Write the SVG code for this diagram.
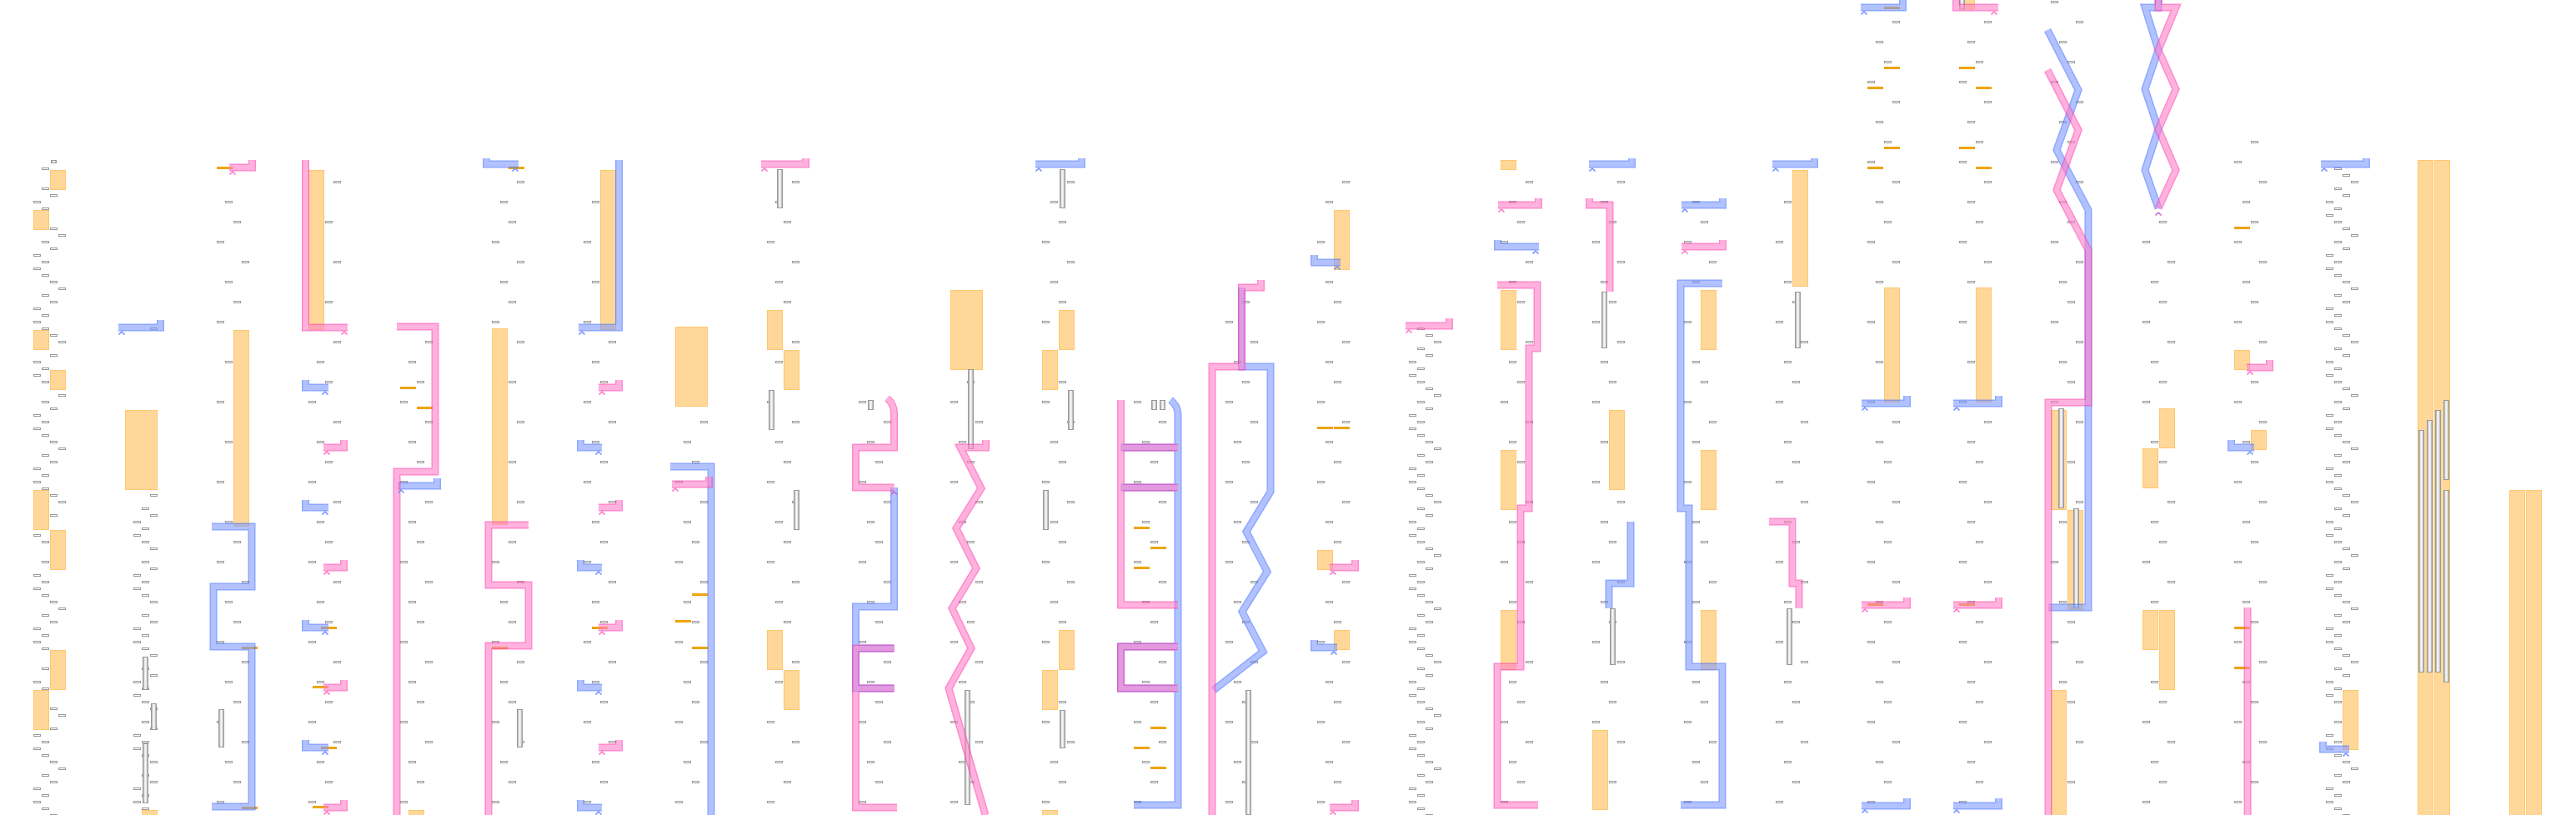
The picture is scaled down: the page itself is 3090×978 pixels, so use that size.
<svg xmlns="http://www.w3.org/2000/svg" width="3090" height="978" viewBox="0 0 3090 978">
<style>
.b{fill:#fff;stroke:#9a9a9a;stroke-width:1}
.o{fill:#ffd899;stroke:#ffc66e;stroke-width:1}
.t{fill:#f5ad17;stroke:#e9a000;stroke-width:1}
.g{fill:url(#gg);stroke:#9a9a9a;stroke-width:1}
.pk,.bl{opacity:.6}
.pk .e{fill:none;stroke:#ff3caf;stroke-width:9}
.pk .i{fill:none;stroke:#ff80c8;stroke-width:6}
.bl .e{fill:none;stroke:#446eff;stroke-width:9}
.bl .i{fill:none;stroke:#809bff;stroke-width:6}
.cp{fill:none;stroke:#ff6ec7;stroke-width:1.5}
.cb{fill:none;stroke:#6f8dff;stroke-width:1.5}
.cm{fill:none;stroke:#c466cc;stroke-width:1.5}
</style>
<defs>
<linearGradient id="gg" x1="0" x2="1" y1="0" y2="0">
<stop offset="0" stop-color="#8f8f8f"/><stop offset=".35" stop-color="#ececec"/><stop offset=".55" stop-color="#fafafa"/><stop offset=".75" stop-color="#d8d8d8"/><stop offset="1" stop-color="#8f8f8f"/>
</linearGradient>
<pattern id="zz" patternUnits="userSpaceOnUse" x="40" y="1" width="110" height="64">
<rect class="b" x="0.5" y="0.5" width="8" height="2"/>
<rect class="b" x="10.5" y="8.5" width="8" height="2"/>
<rect class="b" x="20.5" y="16.5" width="8" height="2"/>
<rect class="b" x="30.5" y="24.5" width="8" height="2"/>
<rect class="b" x="10.5" y="32.5" width="8" height="2"/>
<rect class="b" x="20.5" y="40.5" width="8" height="2"/>
<rect class="b" x="0.5" y="48.5" width="8" height="2"/>
<rect class="b" x="10.5" y="56.5" width="8" height="2"/>
</pattern>
<pattern id="sp" patternUnits="userSpaceOnUse" x="40" y="1" width="110" height="96">
<rect class="b" x="0.5" y="0.5" width="8" height="2"/>
<rect class="b" x="30.5" y="24.5" width="8" height="2"/>
<rect class="b" x="10.5" y="48.5" width="8" height="2"/>
<rect class="b" x="20.5" y="72.5" width="8" height="2"/>
</pattern>
<path id="chv" d="M-3.5,3.5L0,0L3.5,3.5"/>
<g id="PP">
<path d="M302.5,192V201H275"/>
<path d="M366.5,192V393H417"/>
<path d="M412.5,528V537H388"/>
<path d="M412.5,672V681H388"/>
<path d="M412.5,816V825H388"/>
<path d="M412.5,960V969H388"/>
<path d="M476,392H522V566H476V978"/>
<path d="M634,630H586V702H634V775H586V978"/>
<path d="M742.5,456V465H718"/>
<path d="M742.5,600V609H718"/>
<path d="M742.5,744V753H718"/>
<path d="M742.5,888V897H718"/>
<path d="M850.5,572V581H806"/>
<path d="M966.5,190V197H913"/>
<path d="M1064,478Q1072,484 1072.5,495V537H1026.5V585H1072.5"/>
<path d="M1072.5,778H1026.5V969H1076M1026.5,826H1072.5"/>
<path d="M1182.5,528V537H1152L1177,586L1147,634L1171,682L1142,730L1165,778L1138,826L1182,978"/>
<path d="M1344.5,480V726H1413M1344.5,537H1413M1344.5,585H1413M1413,776H1344.5V826H1413"/>
<path d="M1512.5,336V345H1489.5V440H1454V978"/>
<path d="M1625.5,672V681H1595"/>
<path d="M1625.5,960V969H1595"/>
<path d="M1738.5,382V391H1686"/>
<path d="M1845.5,238V246H1797"/>
<path d="M1796,342H1844V418H1834V610H1824V800H1796V966H1845"/>
<path d="M1906.5,238V246H1931V350"/>
<path d="M2066.5,288V296H2017"/>
<path d="M2122,626H2150V700H2158V730"/>
<path d="M2287.5,717V726H2233"/>
<path d="M2346.5,0V9H2397"/>
<path d="M2397.5,717V726H2343"/>
<path d="M2456,84L2493,156L2467,228L2505,300V483H2457V978"/>
<path d="M2589,0V9H2610L2589,60L2610,107L2589,155L2610,204L2589,250"/>
<path d="M2722.5,432V441H2695"/>
<path d="M2696,729V978"/>
</g>
<g id="BP">
<path d="M192.5,384V393H142"/>
<path d="M254,632H302V704H256V776H302V968H254"/>
<path d="M366.5,456V465H394"/>
<path d="M366.5,600V609H394"/>
<path d="M366.5,744V753H394"/>
<path d="M366.5,888V897H394"/>
<path d="M524.5,574V583H477"/>
<path d="M583.5,190V197H622"/>
<path d="M742.5,192V393H694"/>
<path d="M696.5,528V537H722"/>
<path d="M696.5,672V681H722"/>
<path d="M696.5,816V825H722"/>
<path d="M696.5,960V969H722"/>
<path d="M804,560H853V978"/>
<path d="M1072.5,585V728H1026.5V826H1072.5M1026.5,778H1072.5"/>
<path d="M1297.5,190V197H1242"/>
<path d="M1404,480Q1412,486 1413,496V966H1360M1344.5,537H1413M1344.5,585H1413M1413,776H1344.5V826H1413"/>
<path d="M1489.5,345V440H1524V590L1495,638L1520,686L1490,734L1515,782L1456,828"/>
<path d="M1576.5,306V315H1608"/>
<path d="M1576.5,768V777H1604"/>
<path d="M1796.5,288V296H1846"/>
<path d="M1957.5,190V197H1906"/>
<path d="M1956,626V700H1930V730"/>
<path d="M2066.5,238V246H2017"/>
<path d="M2066,340H2016V610H2026V800H2066V966H2016"/>
<path d="M2176.5,190V197H2126"/>
<path d="M2282.5,0V9H2232"/>
<path d="M2287.5,475V484H2233"/>
<path d="M2287.5,958V967H2233"/>
<path d="M2397.5,475V484H2343"/>
<path d="M2397.5,958V967H2343"/>
<path d="M2456,36L2493,108L2467,180L2505,252V729H2457"/>
<path d="M2589,0V9H2573L2589,60L2573,107L2589,155L2573,204L2589,250"/>
<path d="M2676.5,528V537H2704"/>
<path d="M2838.5,190V197H2784"/>
<path d="M2786.5,890V899H2818"/>
</g>
</defs>
<rect width="3090" height="978" fill="#fff"/>

<g id="c1">
<rect fill="url(#zz)" x="40" y="200" width="40" height="778"/>
<rect class="g" x="61.5" y="192.5" width="6" height="3"/>
<rect class="o" x="60.5" y="204.5" width="18" height="23"/>
<rect class="o" x="40.5" y="252.5" width="18" height="23"/>
<rect class="o" x="40.5" y="396.5" width="18" height="23"/>
<rect class="o" x="60.5" y="444.5" width="18" height="23"/>
<rect class="o" x="40.5" y="588.5" width="18" height="47"/>
<rect class="o" x="60.5" y="636.5" width="18" height="47"/>
<rect class="o" x="60.5" y="780.5" width="18" height="47"/>
<rect class="o" x="40.5" y="828.5" width="18" height="47"/>
</g>
<g id="c2">
<g transform="translate(10,0)"><rect fill="url(#zz)" x="140" y="590" width="40" height="388"/></g>
<rect class="b" x="180.5" y="393.5" width="8" height="2"/>
<rect class="o" x="150.5" y="492.5" width="38" height="95"/>
<rect class="g" x="171.5" y="788.5" width="6" height="39"/>
<rect class="g" x="181.5" y="844.5" width="6" height="31"/>
<rect class="g" x="171.5" y="892.5" width="6" height="71"/>
<rect class="o" x="170.5" y="972.5" width="18" height="10"/>
</g>
<g id="c3">
<rect fill="url(#sp)" x="260" y="224" width="40" height="754"/>
<rect class="t" x="260.5" y="200.5" width="18" height="2"/>
<rect class="o" x="280.5" y="396.5" width="18" height="235"/>
<rect class="g" x="262.5" y="851.5" width="6" height="45"/>
<rect class="t" x="290.5" y="776.5" width="18" height="2"/>
<rect class="t" x="290.5" y="968.5" width="18" height="2"/>
</g>
<g id="c4">
<rect fill="url(#sp)" x="370" y="200" width="40" height="778"/>
<rect class="o" x="370.5" y="204.5" width="18" height="191"/>
<rect class="t" x="385.5" y="752.5" width="18" height="2"/>
<rect class="t" x="375.5" y="823.5" width="18" height="2"/>
<rect class="t" x="385.5" y="896.5" width="18" height="2"/>
<rect class="t" x="375.5" y="967.5" width="18" height="2"/>
</g>
<g id="c5">
<rect fill="url(#sp)" x="480" y="390" width="40" height="588"/>
<rect class="t" x="480.5" y="464.5" width="18" height="2"/>
<rect class="t" x="500.5" y="488.5" width="18" height="2"/>
<rect class="o" x="490.5" y="972.5" width="18" height="10"/>
</g>
<g id="c6">
<rect fill="url(#sp)" x="590" y="200" width="40" height="778"/>
<rect class="t" x="610.5" y="200.5" width="18" height="2"/>
<rect class="o" x="590.5" y="394.5" width="18" height="235"/>
<rect class="g" x="620.5" y="851.5" width="6" height="45"/>
<rect class="t" x="590.5" y="776.5" width="18" height="2"/>
</g>
<g id="c7">
<rect fill="url(#sp)" x="700" y="200" width="40" height="778"/>
<rect class="o" x="720.5" y="204.5" width="18" height="191"/>
<rect class="t" x="710.5" y="752.5" width="18" height="2"/>
</g>
<g id="c8">
<rect fill="url(#sp)" x="810" y="390" width="40" height="588"/>
<rect class="o" x="810.5" y="392.5" width="38" height="95"/>
<rect class="t" x="830.5" y="712.5" width="18" height="2"/>
<rect class="t" x="810.5" y="744.5" width="18" height="2"/>
<rect class="t" x="830.5" y="776.5" width="18" height="2"/>
</g>
<g id="c9">
<rect fill="url(#sp)" x="920" y="200" width="40" height="778"/>
<rect class="g" x="932.5" y="203.5" width="6" height="46"/>
<rect class="o" x="920.5" y="372.5" width="18" height="47"/>
<rect class="o" x="940.5" y="420.5" width="18" height="47"/>
<rect class="g" x="922.5" y="468.5" width="6" height="47"/>
<rect class="g" x="952.5" y="588.5" width="6" height="47"/>
<rect class="o" x="920.5" y="756.5" width="18" height="47"/>
<rect class="o" x="940.5" y="804.5" width="18" height="47"/>
</g>
<g id="c10">
<rect fill="url(#sp)" x="1030" y="480" width="40" height="498"/>
<rect class="g" x="1041.5" y="480.5" width="6" height="11"/>
</g>
<g id="c11">
<rect fill="url(#sp)" x="1140" y="345" width="40" height="633"/>
<rect class="o" x="1140.5" y="348.5" width="38" height="95"/>
<rect class="g" x="1161.5" y="443.5" width="6" height="95"/>
<rect class="g" x="1157.5" y="828.5" width="6" height="137"/>
</g>
<g id="c12">
<rect fill="url(#sp)" x="1250" y="200" width="40" height="778"/>
<rect class="g" x="1271.5" y="203.5" width="6" height="46"/>
<rect class="o" x="1270.5" y="372.5" width="18" height="47"/>
<rect class="o" x="1250.5" y="420.5" width="18" height="47"/>
<rect class="g" x="1281.5" y="468.5" width="6" height="47"/>
<rect class="g" x="1251.5" y="588.5" width="6" height="47"/>
<rect class="o" x="1270.5" y="756.5" width="18" height="47"/>
<rect class="o" x="1250.5" y="804.5" width="18" height="47"/>
<rect class="g" x="1271.5" y="852.5" width="6" height="45"/>
<rect class="o" x="1250.5" y="972.5" width="18" height="10"/>
</g>
<g id="c13">
<rect fill="url(#sp)" x="1360" y="480" width="40" height="498"/>
<rect class="g" x="1381.5" y="480.5" width="6" height="11"/>
<rect class="g" x="1391.5" y="480.5" width="6" height="11"/>
<rect class="t" x="1360.5" y="632.5" width="18" height="2"/>
<rect class="t" x="1380.5" y="656.5" width="18" height="2"/>
<rect class="t" x="1360.5" y="680.5" width="18" height="2"/>
<rect class="t" x="1380.5" y="872.5" width="18" height="2"/>
<rect class="t" x="1360.5" y="896.5" width="18" height="2"/>
<rect class="t" x="1380.5" y="920.5" width="18" height="2"/>
</g>
<g id="c14">
<rect fill="url(#sp)" x="1470" y="340" width="40" height="638"/>
<rect class="g" x="1494.5" y="828.5" width="6" height="149"/>
</g>
<g id="c15">
<rect fill="url(#sp)" x="1580" y="200" width="40" height="778"/>
<rect class="o" x="1600.5" y="252.5" width="18" height="71"/>
<rect class="t" x="1580.5" y="512.5" width="18" height="2"/>
<rect class="t" x="1600.5" y="512.5" width="18" height="2"/>
<rect class="o" x="1580.5" y="660.5" width="18" height="23"/>
<rect class="o" x="1600.5" y="756.5" width="18" height="23"/>
</g>
<g id="c16">
<rect fill="url(#zz)" x="1690" y="390" width="40" height="588"/>
</g>
<g id="c17">
<rect fill="url(#sp)" x="1800" y="200" width="40" height="778"/>
<rect class="o" x="1800.5" y="192.5" width="18" height="11"/>
<rect class="o" x="1800.5" y="348.5" width="18" height="71"/>
<rect class="o" x="1800.5" y="540.5" width="18" height="71"/>
<rect class="o" x="1800.5" y="732.5" width="18" height="71"/>
</g>
<g id="c18">
<rect fill="url(#sp)" x="1910" y="200" width="40" height="778"/>
<rect class="g" x="1921.5" y="350.5" width="6" height="67"/>
<rect class="g" x="1931.5" y="730.5" width="6" height="67"/>
<rect class="o" x="1930.5" y="492.5" width="18" height="95"/>
<rect class="o" x="1910.5" y="876.5" width="18" height="95"/>
</g>
<g id="c19">
<rect fill="url(#sp)" x="2020" y="240" width="40" height="738"/>
<rect class="o" x="2040.5" y="348.5" width="18" height="71"/>
<rect class="o" x="2040.5" y="540.5" width="18" height="71"/>
<rect class="o" x="2040.5" y="732.5" width="18" height="71"/>
</g>
<g id="c20">
<rect fill="url(#sp)" x="2130" y="200" width="40" height="778"/>
<rect class="o" x="2150.5" y="204.5" width="18" height="139"/>
<rect class="g" x="2153.5" y="350.5" width="6" height="67"/>
<rect class="g" x="2143.5" y="730.5" width="6" height="67"/>
</g>
<g id="c21">
<rect fill="url(#sp)" x="2240" y="20" width="40" height="958"/>
<rect class="t" x="2260.5" y="8.5" width="18" height="2"/>
<rect class="t" x="2260.5" y="80.5" width="18" height="2"/>
<rect class="t" x="2240.5" y="104.5" width="18" height="2"/>
<rect class="t" x="2260.5" y="176.5" width="18" height="2"/>
<rect class="t" x="2240.5" y="200.5" width="18" height="2"/>
<rect class="o" x="2260.5" y="345.5" width="18" height="137"/>
<rect class="t" x="2240.5" y="724.5" width="18" height="2"/>
</g>
<g id="c22">
<rect fill="url(#sp)" x="2350" y="20" width="40" height="958"/>
<rect class="o" x="2352.5" y="-5" width="16" height="16"/>
<rect class="g" x="2350.5" y="-1" width="6" height="12"/>
<rect class="t" x="2350.5" y="80.5" width="18" height="2"/>
<rect class="t" x="2370.5" y="104.5" width="18" height="2"/>
<rect class="t" x="2350.5" y="176.5" width="18" height="2"/>
<rect class="t" x="2370.5" y="200.5" width="18" height="2"/>
<rect class="o" x="2370.5" y="345.5" width="18" height="137"/>
<rect class="t" x="2350.5" y="724.5" width="18" height="2"/>
</g>
<g id="c23">
<rect fill="url(#sp)" x="2460" y="0" width="40" height="978"/>
<rect class="o" x="2460.5" y="492.5" width="18" height="119"/>
<rect class="o" x="2480.5" y="612.5" width="18" height="119"/>
<rect class="o" x="2460.5" y="828.5" width="18" height="150"/>
<rect class="g" x="2469.5" y="490.5" width="6" height="119"/>
<rect class="g" x="2487.5" y="610.5" width="6" height="119"/>
</g>
<g id="c24">
<rect fill="url(#sp)" x="2570" y="260" width="40" height="718"/>
<rect class="o" x="2590.5" y="490.5" width="18" height="47"/>
<rect class="o" x="2570.5" y="538.5" width="18" height="47"/>
<rect class="o" x="2570.5" y="732.5" width="18" height="47"/>
<rect class="o" x="2590.5" y="732.5" width="18" height="95"/>
</g>
<g id="c25">
<rect fill="url(#sp)" x="2680" y="150" width="40" height="828"/>
<rect class="t" x="2680.5" y="272.5" width="18" height="2"/>
<rect class="o" x="2680.5" y="420.5" width="18" height="23"/>
<rect class="o" x="2700.5" y="516.5" width="18" height="23"/>
<rect class="t" x="2680.5" y="752.5" width="18" height="2"/>
<rect class="t" x="2680.5" y="800.5" width="18" height="2"/>
</g>
<g id="c26">
<rect fill="url(#zz)" x="2790" y="200" width="40" height="778"/>
<rect class="o" x="2810.5" y="828.5" width="18" height="71"/>
</g>
<g id="c27">
<rect class="o" x="2900.5" y="192.5" width="18" height="786"/>
<rect class="o" x="2920.5" y="192.5" width="18" height="786"/>
<rect class="g" x="2901.5" y="516.5" width="6" height="290"/>
<rect class="g" x="2911.5" y="504.5" width="6" height="302"/>
<rect class="g" x="2921.5" y="492.5" width="6" height="314"/>
<rect class="g" x="2931.5" y="480.5" width="6" height="95"/>
<rect class="g" x="2931.5" y="588.5" width="6" height="230"/>
</g>
<g id="c28">
<rect class="o" x="3010.5" y="588.5" width="18" height="390"/>
<rect class="o" x="3030.5" y="588.5" width="18" height="390"/>
</g>

<g id="connectors">
<g class="bl"><use href="#BP" class="e"/><use href="#BP" class="i"/></g>
<g class="pk"><use href="#PP" class="e"/><use href="#PP" class="i"/></g>
<g class="cp">
<use href="#chv" x="279" y="206"/><use href="#chv" x="413" y="398"/><use href="#chv" x="392" y="542"/><use href="#chv" x="392" y="686"/><use href="#chv" x="392" y="830"/><use href="#chv" x="392" y="974"/>
<use href="#chv" x="722" y="470"/><use href="#chv" x="722" y="614"/><use href="#chv" x="722" y="758"/><use href="#chv" x="722" y="902"/>
<use href="#chv" x="810" y="586"/><use href="#chv" x="917" y="202"/><use href="#chv" x="1599" y="686"/><use href="#chv" x="1599" y="974"/>
<use href="#chv" x="1690" y="396"/><use href="#chv" x="1801" y="251"/><use href="#chv" x="2021" y="301"/><use href="#chv" x="2237" y="731"/>
<use href="#chv" x="2392" y="14"/><use href="#chv" x="2347" y="731"/><use href="#chv" x="2699" y="446"/>
</g>
<g class="cb">
<use href="#chv" x="146" y="398"/><use href="#chv" x="390" y="470"/><use href="#chv" x="390" y="614"/><use href="#chv" x="390" y="758"/><use href="#chv" x="390" y="902"/>
<use href="#chv" x="481" y="588"/><use href="#chv" x="618" y="202"/><use href="#chv" x="698" y="398"/><use href="#chv" x="718" y="542"/><use href="#chv" x="718" y="686"/><use href="#chv" x="718" y="830"/><use href="#chv" x="718" y="974"/>
<use href="#chv" x="1246" y="202"/><use href="#chv" x="1604" y="320"/><use href="#chv" x="1600" y="782"/><use href="#chv" x="1842" y="301"/><use href="#chv" x="1910" y="202"/><use href="#chv" x="2021" y="251"/><use href="#chv" x="2130" y="202"/>
<use href="#chv" x="2236" y="14"/><use href="#chv" x="2237" y="489"/><use href="#chv" x="2237" y="972"/><use href="#chv" x="2347" y="489"/><use href="#chv" x="2347" y="972"/>
<use href="#chv" x="2699" y="542"/><use href="#chv" x="2788" y="202"/><use href="#chv" x="2814" y="904"/>
</g>
<g class="cm"><use href="#chv" x="1072.5" y="590"/><use href="#chv" x="2589" y="255"/></g>
</g>
</svg>
